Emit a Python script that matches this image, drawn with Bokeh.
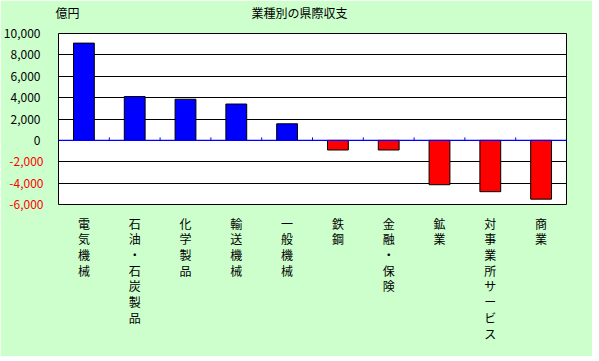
from bokeh.plotting import figure
from bokeh.models import FixedTicker, Span, Range1d, LinearAxis
from bokeh.embed import file_html
from bokeh.resources import INLINE

# --- data ---
title_text = "業種別の県際収支"
unit_text = "億円"
categories = ["電気機械", "石油・石炭製品", "化学製品", "輸送機械", "一般機械",
              "鉄鋼", "金融・保険", "鉱業", "対事業所サービス", "商業"]
values = [9100, 4100, 3850, 3400, 1550, -900, -900, -4150, -4800, -5500]
y_ticks = [-6000, -4000, -2000, 0, 2000, 4000, 6000, 8000, 10000]

FONT = "Noto Sans CJK JP"
GREEN = "#CCFFCC"
NEG_W = 34  # approx. pixel width of the widest negative tick label
CAT_PX = 50.8  # pixel width of one category slot (frame 508px / 10)

p = figure(frame_width=508, frame_height=171, output_backend="svg", toolbar_location=None,
           x_range=Range1d(0, len(categories)), y_range=Range1d(-6000, 10000),
           min_border_left=51, min_border_right=26,
           min_border_top=26, min_border_bottom=152)

p.border_fill_color = GREEN
p.background_fill_color = "white"
p.outline_line_color = "black"
p.outline_line_width = 1

xs = [i + 0.5 for i in range(len(categories))]
colors = ["#0000FF" if v >= 0 else "#FF0000" for v in values]
p.vbar(x=xs, top=values, bottom=0, width=0.41, fill_color=colors,
       line_color="black", line_width=1)

# zero line and boundary tick marks
p.add_layout(Span(location=0, dimension="width", line_color="#0000FF", line_width=1.2))
bounds = list(range(1, len(categories)))
p.segment(x0=bounds, y0=[0] * len(bounds), x1=bounds, y1=[280] * len(bounds),
          line_color="#0000FF", line_width=1)

def plain_axis(ax, color):
    ax.axis_line_color = None
    ax.major_tick_line_color = None
    ax.minor_tick_line_color = None
    ax.major_tick_out = 0
    ax.major_tick_in = 0
    ax.minor_tick_out = 0
    ax.major_label_text_font = FONT
    ax.major_label_text_font_size = "12px"
    ax.major_label_text_color = color

def style_y(ax, color, overrides, standoff):
    ax.ticker = FixedTicker(ticks=y_ticks)
    ax.major_label_overrides = overrides
    ax.major_label_standoff = standoff
    plain_axis(ax, color)

# inner axis: negative labels in red
style_y(p.yaxis[0], "#FF0000", {t: (f"{t:,}" if t < 0 else "") for t in y_ticks}, 15)
# outer axis: zero and positive labels in black, pulled in to line up
ax_pos = LinearAxis()
style_y(ax_pos, "black", {t: (f"{t:,}" if t >= 0 else "") for t in y_ticks}, -NEG_W)
p.add_layout(ax_pos, "left")

p.ygrid.ticker = FixedTicker(ticks=y_ticks)
p.ygrid.grid_line_color = "black"
p.ygrid.grid_line_width = 1
p.xgrid.grid_line_color = None

# x axis with stacked vertical labels
p.xaxis.ticker = FixedTicker(ticks=xs)
p.xaxis.major_label_overrides = {x: "\n".join(c) for x, c in zip(xs, categories)}
p.xaxis.major_label_standoff = 10
plain_axis(p.xaxis[0], "black")
p.xaxis.major_label_text_line_height = 0.925

# top texts: unit label and chart title
unit_x = 9 / CAT_PX
title_x = 241 / CAT_PX
ax_top = LinearAxis(ticker=FixedTicker(ticks=[unit_x, title_x]),
                    major_label_overrides={unit_x: unit_text, title_x: title_text})
plain_axis(ax_top, "black")
ax_top.major_label_standoff = 13
ax_top.major_label_text_baseline = "middle"
p.add_layout(ax_top, "above")

open("out.html", "w").write(file_html(p, INLINE))
